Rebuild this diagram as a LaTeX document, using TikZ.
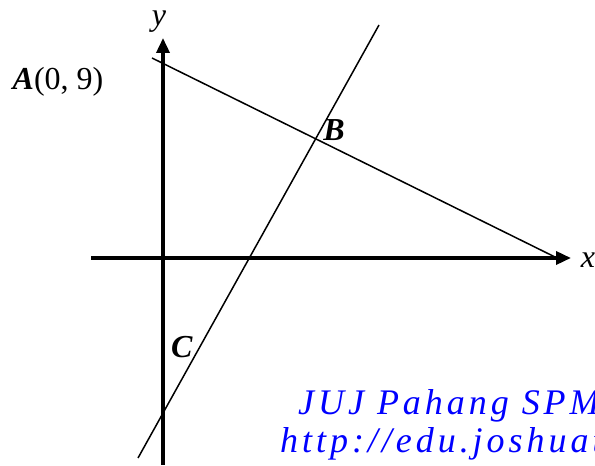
\documentclass[tikz,border=0pt]{standalone}
\usepackage{fontspec}
\setmainfont{Liberation Serif}
\usepackage{tikz}
\usetikzlibrary{arrows.meta}

\begin{document}
\begin{tikzpicture}[x=1pt,y=1pt,>={Triangle[length=15pt,width=13pt]},
    lbl/.style={font=\fontsize{32}{36}\selectfont,inner sep=0pt},
    wmark/.style={font=\fontsize{36}{40}\selectfont\itshape\addfontfeature{LetterSpace=11},text=blue,anchor=base west,inner sep=0pt}]
        \useasboundingbox (0,0) rectangle (595,466);
        \clip (0,0) rectangle (595,466);
        \draw [->,line width=3.5pt] (91,208) -- (571,208);
        \draw [->,line width=3.5pt] (163,1) -- (163,428);
        \coordinate (a) at (152,408);
        \coordinate (e) at (555,209);
        \coordinate (t) at (379,441);
        \coordinate (u) at (138,8);
        \draw [line width=1.5pt] (a) -- (e);
        \draw [line width=1.5pt] (t) -- (u);
        \node [lbl] (ylab) at (159,444) {\textit{y}};
        \node [lbl] (xlab) at (588,206) {\textit{x}};
        \node [lbl] (alab) at (58,384) {\textbf{\textit{A}}(0, 9)};
        \node [lbl] (blab) at (334,336) {\textbf{\textit{B}}};
        \node [lbl] (clab) at (182,119) {\textbf{\textit{C}}};
        \node [wmark] (m1) at (298,51) {JUJ Pahang SPM};
        \node [wmark] (m2) at (280,13) {http://edu.joshuat};
\end{tikzpicture}
\end{document}
